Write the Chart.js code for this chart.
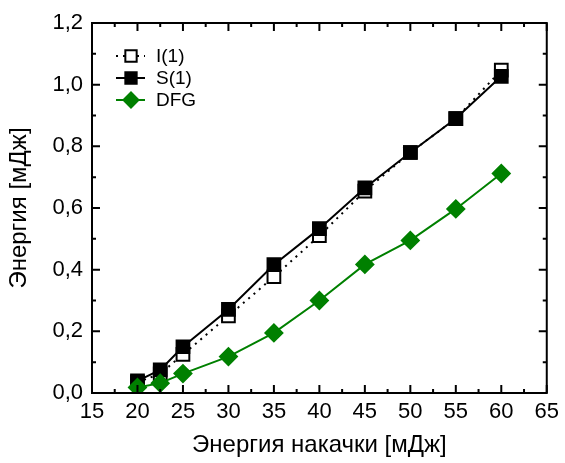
<!DOCTYPE html>
<html>
<head>
<meta charset="utf-8">
<script src="https://cdn.jsdelivr.net/npm/chart.js@4"></script>
<style>
  html, body { margin: 0; padding: 0; background: #fff; }
  #wrap { width: 565px; height: 463px; }
</style>
</head>
<body>
<div id="wrap"><canvas id="c" width="565" height="463"></canvas></div>
<script>
// Pump energy, mJ
const pumpEnergy = [20, 22.5, 25, 30, 35, 40, 45, 50, 55, 60];
// Output energies, mJ
const idlerI1 = [0.035, 0.062, 0.125, 0.25, 0.377, 0.51, 0.655, 0.78, 0.89, 1.047];
const signalS1 = [0.039, 0.075, 0.15, 0.271, 0.416, 0.533, 0.665, 0.78, 0.89, 1.027];
const dfg = [0.018, 0.032, 0.063, 0.118, 0.195, 0.3, 0.417, 0.495, 0.597, 0.712];

const seriesNames = ['I(1)', 'S(1)', 'DFG'];
const xTicks = [15, 20, 25, 30, 35, 40, 45, 50, 55, 60, 65];
const yTicks = [0, 0.2, 0.4, 0.6, 0.8, 1.0, 1.2];

const GREEN = '#008000';
const FONT = "'Liberation Sans', Arial, sans-serif";

const pts = ys => pumpEnergy.map((x, i) => ({ x, y: ys[i] }));

const styles = [
  { borderColor: '#000', borderDash: [2, 5], pointStyle: 'rect', pointBackgroundColor: '#fff', pointBorderColor: '#000', pointRadius: 9, order: 2 },
  { borderColor: '#000', borderDash: [], pointStyle: 'rect', pointBackgroundColor: '#000', pointBorderColor: '#000', pointRadius: 9, order: 1 },
  { borderColor: GREEN, borderDash: [], pointStyle: 'rectRot', pointBackgroundColor: GREEN, pointBorderColor: GREEN, pointRadius: 8.5, order: 0 }
];
const values = [idlerI1, signalS1, dfg];

const datasets = values.map((v, i) => Object.assign({
  label: seriesNames[i],
  data: pts(v),
  borderWidth: 2,
  pointBorderWidth: 2,
  pointHoverRadius: styles[i].pointRadius,
  fill: false,
  tension: 0
}, styles[i]));

// Frame, inward major/minor ticks on all four sides, and the legend
const framePlugin = {
  id: 'frame',
  afterDraw(chart) {
    const { ctx, chartArea: a, scales } = chart;
    const xs = scales.x, ys = scales.y;
    ctx.save();
    ctx.strokeStyle = '#000';
    ctx.lineWidth = 2;
    ctx.strokeRect(a.left, a.top, a.right - a.left, a.bottom - a.top);

    ctx.beginPath();
    for (let i = 0; i < xTicks.length; i++) {
      const px = xs.getPixelForValue(xTicks[i]);
      ctx.moveTo(px, a.bottom); ctx.lineTo(px, a.bottom - 8);
      ctx.moveTo(px, a.top); ctx.lineTo(px, a.top + 8);
      if (i < xTicks.length - 1) {
        const mx = xs.getPixelForValue((xTicks[i] + xTicks[i + 1]) / 2);
        ctx.moveTo(mx, a.bottom); ctx.lineTo(mx, a.bottom - 4);
        ctx.moveTo(mx, a.top); ctx.lineTo(mx, a.top + 4);
      }
    }
    for (let i = 0; i < yTicks.length; i++) {
      const py = ys.getPixelForValue(yTicks[i]);
      ctx.moveTo(a.left, py); ctx.lineTo(a.left + 8, py);
      ctx.moveTo(a.right, py); ctx.lineTo(a.right - 8, py);
      if (i < yTicks.length - 1) {
        const my = ys.getPixelForValue((yTicks[i] + yTicks[i + 1]) / 2);
        ctx.moveTo(a.left, my); ctx.lineTo(a.left + 4, my);
        ctx.moveTo(a.right, my); ctx.lineTo(a.right - 4, my);
      }
    }
    ctx.stroke();

    // legend
    const lx0 = a.left + 24, lx1 = a.left + 53, mx = a.left + 39, tx = a.left + 64;
    const rowY = [a.top + 33, a.top + 55, a.top + 77];
    ctx.font = '19px ' + FONT;
    ctx.textBaseline = 'middle';
    ctx.textAlign = 'left';
    datasets.forEach((d, i) => {
      const y = rowY[i];
      ctx.strokeStyle = d.borderColor;
      ctx.lineWidth = 2;
      ctx.setLineDash(d.borderDash);
      ctx.beginPath(); ctx.moveTo(lx0, y); ctx.lineTo(lx1, y); ctx.stroke();
      ctx.setLineDash([]);
      ctx.fillStyle = d.pointBackgroundColor;
      ctx.strokeStyle = d.pointBorderColor;
      Chart.helpers.drawPoint(ctx, { pointStyle: d.pointStyle, radius: d.pointRadius - 1, borderWidth: 2, rotation: 0 }, mx, y);
      ctx.fillStyle = '#000';
      ctx.fillText(d.label, tx, y + 1);
    });
    ctx.restore();
  }
};

new Chart(document.getElementById('c'), {
  type: 'line',
  data: { datasets },
  plugins: [framePlugin],
  options: {
    responsive: false,
    animation: false,
    events: [],
    layout: { padding: { top: 23, right: 13, left: 0, bottom: 0 } },
    plugins: { legend: { display: false }, tooltip: { enabled: false } },
    scales: {
      x: {
        type: 'linear',
        min: 15, max: 65,
        afterBuildTicks: s => { s.ticks = xTicks.map(v => ({ value: v })); },
        afterFit: s => { s.height = 70; },
        grid: { display: false, drawTicks: false },
        border: { display: false },
        ticks: { color: '#000', font: { family: FONT, size: 22 }, padding: 6, maxRotation: 0, autoSkip: false },
        title: { display: true, text: 'Энергия накачки [мДж]', color: '#000', font: { family: FONT, size: 24 }, padding: { top: 0, bottom: 3 } }
      },
      y: {
        type: 'linear',
        min: 0, max: 1.2,
        afterBuildTicks: s => { s.ticks = yTicks.map(v => ({ value: v })); },
        afterFit: s => { s.width = 92; },
        grid: { display: false, drawTicks: false },
        border: { display: false },
        ticks: {
          color: '#000', font: { family: FONT, size: 22 }, padding: 9, autoSkip: false,
          callback: v => v.toFixed(1).replace('.', ',')
        },
        title: { display: true, text: 'Энергия [мДж]', color: '#000', font: { family: FONT, size: 24 }, padding: { top: 5, bottom: 0 } }
      }
    }
  }
});
</script>
</body>
</html>
